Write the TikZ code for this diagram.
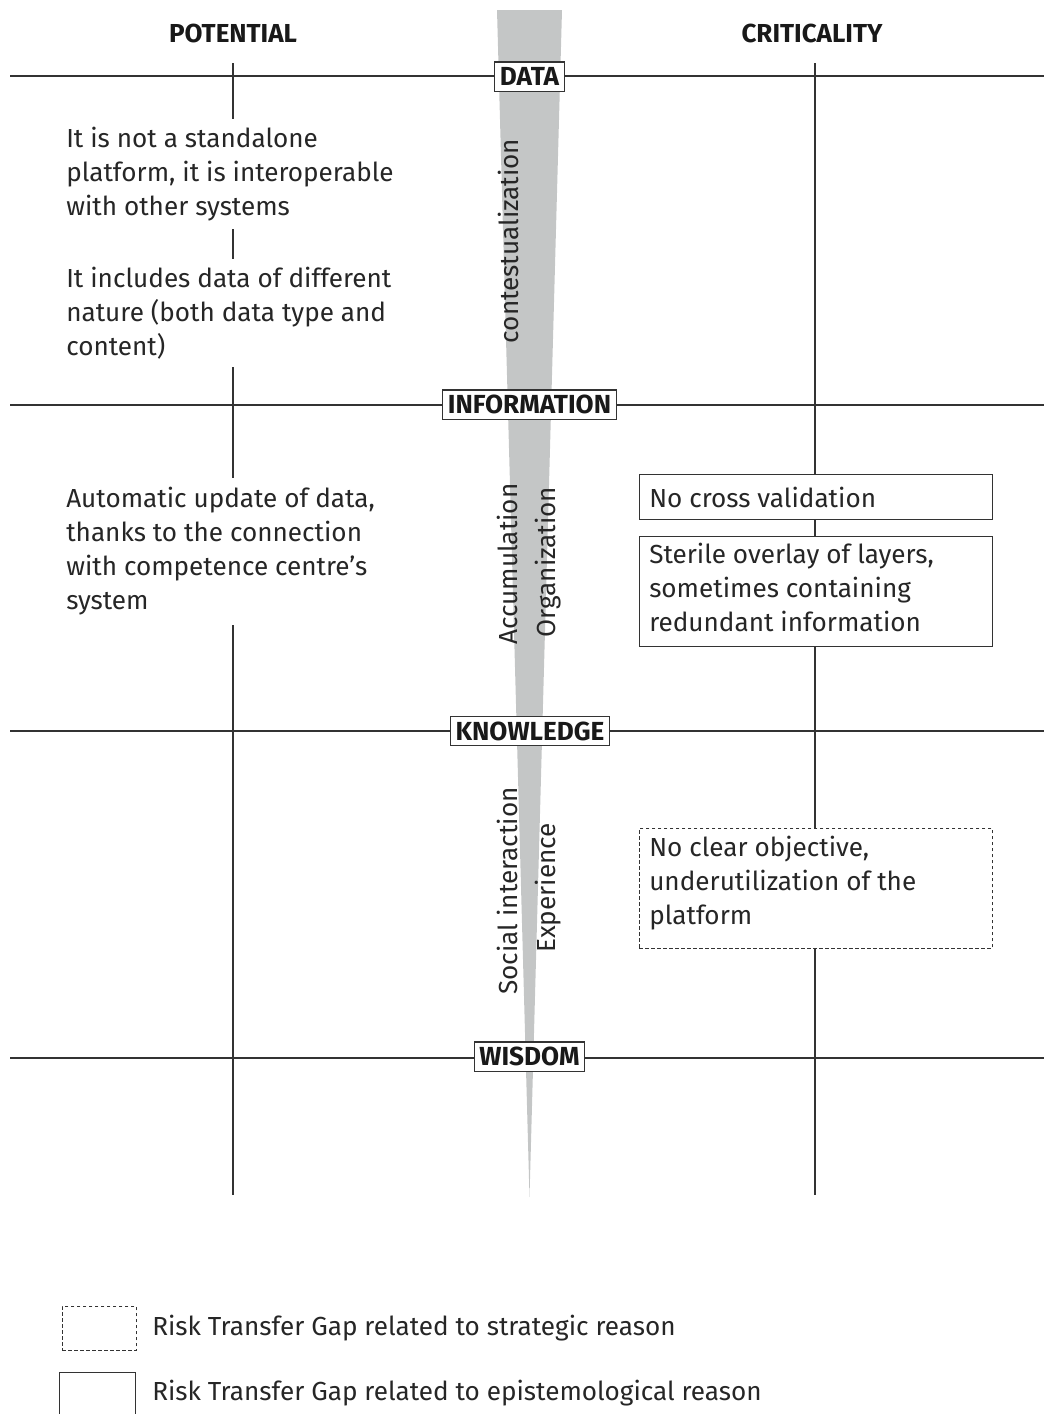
\documentclass[tikz,border=0pt]{standalone}
\usepackage{fontspec}
\setmainfont{Fira Sans}
\begin{document}
\begin{tikzpicture}[x=0.75pt,y=-0.75pt,
  grid/.style={draw=black!80,line width=0.8pt},
  level/.style={draw=black!80,fill=white,line width=0.8pt,inner xsep=4pt,inner ysep=4pt,
    text height=13.8pt,text depth=0pt,
    font=\fontsize{19.6}{20}\selectfont\bfseries,text=black!90},
  head/.style={font=\fontsize{19.5}{22}\selectfont\bfseries,text=black!90},
  note/.style={align=left,anchor=north west,fill=white,inner sep=0pt,
    font=\fontsize{19.6}{25.5}\selectfont,text=black!85},
  riskbox/.style={draw=black!80,line width=0.7pt,fill=white},
  stratbox/.style={riskbox,dash pattern=on 2.5pt off 2pt},
  flow/.style={rotate=90,font=\fontsize{19.6}{22}\selectfont,text=black!85}
]
\useasboundingbox (0,0) rectangle (1044,1414);
\definecolor{wedge}{RGB}{196,198,198}

% tapering wedge
\fill[wedge] (497,10) -- (562,10) -- (529.5,1197) -- cycle;

% columns
\coordinate (pt) at (233,63);  \coordinate (pb) at (233,1195);
\coordinate (ct) at (815,63);  \coordinate (cb) at (815,1195);
\draw[grid] (pt) -- (pb);
\draw[grid] (ct) -- (cb);

% headings
\node[head] (potential) at (233,33) {POTENTIAL};
\node[head] (criticality) at (812,33) {CRITICALITY};

% levels
\foreach \n/\y in {data/76, information/405, knowledge/731, wisdom/1058}{
  \coordinate (\n-l) at (10,\y);
  \coordinate (\n-r) at (1044,\y);
  \draw[grid] (\n-l) -- (\n-r);
}
\node[level] (data) at (529.5,76.5) {DATA};
\node[level] (information) at (529.5,404.5) {INFORMATION};
\node[level] (knowledge) at (530,731) {KNOWLEDGE};
\node[level] (wisdom) at (529.5,1056.5) {WISDOM};

% potential notes
\node[note,inner ysep=6pt] (p1) at (66,119) {It is not a standalone\\platform, it is interoperable\\with other systems};
\node[note,inner ysep=6pt] (p2) at (66,259) {It includes data of different\\nature (both data type and\\content)};
\node[note,inner ysep=7pt] (p3) at (66,478) {Automatic update of data,\\thanks to the connection\\with competence centre’s\\system};

% criticality notes
\node[riskbox,minimum width=353*0.75pt,minimum height=45*0.75pt,anchor=north west] (c1) at (639,474) {};
\node[note,fill=none,anchor=west] at (649,497) {No cross validation};
\node[riskbox,minimum width=353*0.75pt,minimum height=110*0.75pt,anchor=north west] (c2) at (639,536) {};
\node[note,fill=none,anchor=north west] at (649,543) {Sterile overlay of layers,\\sometimes containing\\redundant information};
\node[stratbox,minimum width=353*0.75pt,minimum height=120*0.75pt,anchor=north west] (c3) at (639,828) {};
\node[note,fill=none,anchor=north west] at (649,836) {No clear objective,\\underutilization of the\\platform};

% transitions along the wedge
\node[flow] (contest) at (508,241) {contestualization};
\node[flow] (accum) at (507,564) {Accumulation};
\node[flow] (organ) at (548,562) {Organization};
\node[flow] (social) at (507,891) {Social interaction};
\node[flow] (exper) at (548,888) {Experience};

% legend
\node[stratbox,minimum width=74*0.75pt,minimum height=44*0.75pt,anchor=north west] (ls) at (62,1306) {};
\node[note,fill=none,anchor=west] (lst) at (152,1328) {Risk Transfer Gap related to strategic reason};
\node[riskbox,minimum width=76*0.75pt,minimum height=46*0.75pt,anchor=north west] (le) at (59,1372) {};
\node[note,fill=none,anchor=west] (let) at (152,1393) {Risk Transfer Gap related to epistemological reason};
\end{tikzpicture}
\end{document}
